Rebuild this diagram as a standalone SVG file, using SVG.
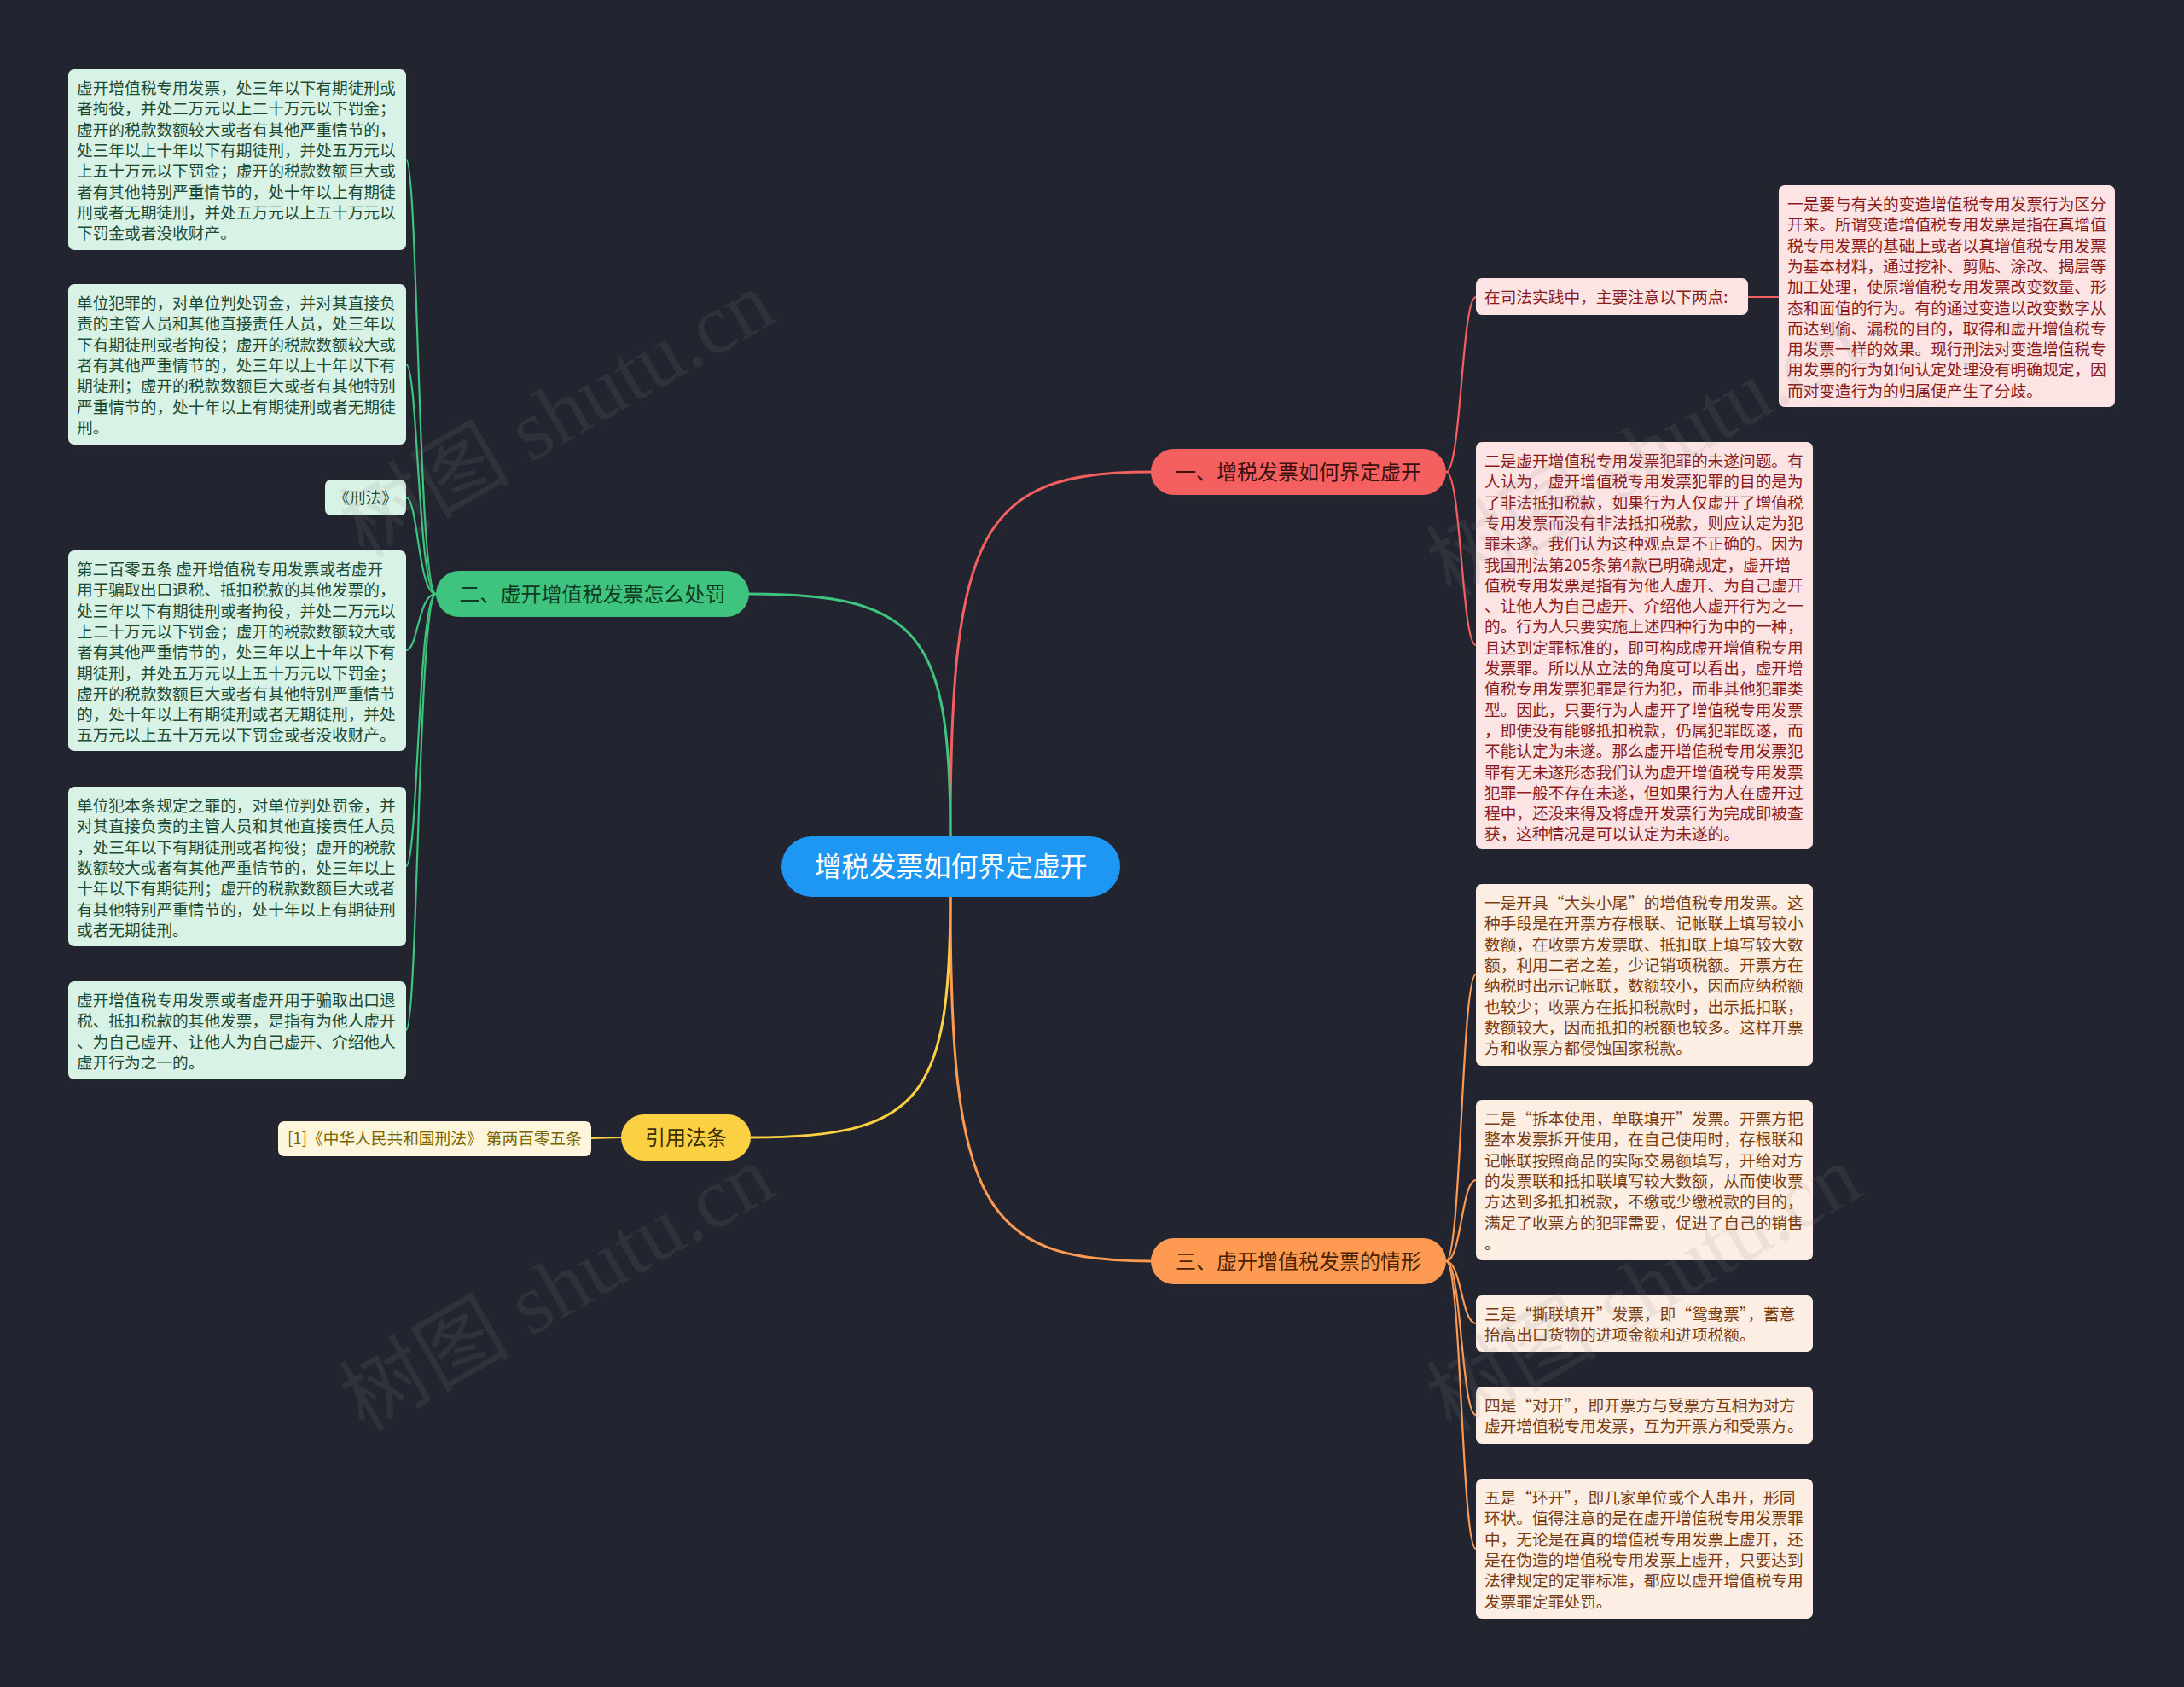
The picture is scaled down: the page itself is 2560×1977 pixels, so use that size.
<svg xmlns="http://www.w3.org/2000/svg" width="2560" height="1977" viewBox="0 0 2560 1977">
<style>
.t{font-family:"Noto Sans CJK SC","Noto Sans",sans-serif;font-size:18.7px}
.g{fill:#1d4a32}.r{fill:#8b1b1b}.o{fill:#7a3b10}.y{fill:#7a6400}
.bt{font-family:"Noto Sans CJK SC","Noto Sans",sans-serif;font-size:24px;text-anchor:middle}
.lg{fill:#d9f2e6}.lr{fill:#fde4e4}.lo{fill:#fdeee3}.ly{fill:#fdf6dc}
.c{fill:none;stroke-linecap:round}
.wm{font-family:"Liberation Serif","Noto Sans CJK SC",serif;font-size:100px;fill:#8a8a8a;opacity:0.13;text-anchor:middle}
</style>
<rect width="2560" height="1977" fill="#22242f"/>
<g id="connectors">
<path class="c" stroke="#f4605f" stroke-width="3" d="M1114 980 C1114 620,1150 553,1349 553"/>
<path class="c" stroke="#3ec47e" stroke-width="3" d="M1114 980 C1114 741,1078 696,878 696"/>
<path class="c" stroke="#fbd143" stroke-width="3" d="M1114 1051 C1114 1289,1078 1333,880 1333"/>
<path class="c" stroke="#fe9a52" stroke-width="3" d="M1114 1051 C1114 1411,1150 1478,1349 1478"/>
<g stroke="#3ec47e" stroke-width="2.2" class="c">
<path d="M511 696 C490 696,490 187,476 187"/>
<path d="M511 696 C490 696,490 427,476 427"/>
<path d="M511 696 C490 696,490 583,476 583"/>
<path d="M511 696 C490 696,490 762,476 762"/>
<path d="M511 696 C490 696,490 1015,476 1015"/>
<path d="M511 696 C490 696,490 1207,476 1207"/>
</g>
<g stroke="#f4605f" stroke-width="2.2" class="c">
<path d="M1695 553 C1713 553,1713 348,1730 348"/>
<path d="M1695 553 C1713 553,1713 756,1730 756"/>
<path d="M2049 348 L2085 348"/>
</g>
<g stroke="#fe9a52" stroke-width="2.2" class="c">
<path d="M1695 1478 C1713 1478,1713 1142,1730 1142"/>
<path d="M1695 1478 C1713 1478,1713 1383,1730 1383"/>
<path d="M1695 1478 C1713 1478,1713 1551,1730 1551"/>
<path d="M1695 1478 C1713 1478,1713 1658,1730 1658"/>
<path d="M1695 1478 C1713 1478,1713 1815,1730 1815"/>
</g>
<path class="c" stroke="#fbd143" stroke-width="2.2" d="M728 1333 L693 1334"/>
</g>
<g id="root">
<rect x="916" y="980" width="397" height="71" rx="35.5" fill="#1e97f3"/>
<text x="1114.5" y="1027" style="font-family:'Noto Sans CJK SC','Noto Sans',sans-serif;font-size:32px;text-anchor:middle" fill="#ffffff">增税发票如何界定虚开</text>
</g>
<g id="b1">
<rect x="1349" y="526" width="346" height="54" rx="27" fill="#f4605f"/>
<text class="bt" x="1522" y="561.5" fill="#3d0f0f">一、增税发票如何界定虚开</text>
</g>
<g id="b2">
<rect x="511" y="669" width="367" height="54" rx="27" fill="#3ec47e"/>
<text class="bt" x="694.5" y="704.5" fill="#0e3b22">二、虚开增值税发票怎么处罚</text>
</g>
<g id="b3">
<rect x="1349" y="1451" width="346" height="54" rx="27" fill="#fe9a52"/>
<text class="bt" x="1522" y="1486.5" fill="#4a2200">三、虚开增值税发票的情形</text>
</g>
<g id="b4">
<rect x="728" y="1306" width="152" height="54" rx="27" fill="#fbd143"/>
<text class="bt" x="804" y="1341.5" fill="#3b3000">引用法条</text>
</g>
<g id="l1">
<rect class="lg" x="80" y="81" width="396" height="212" rx="7"/>
<text class="t g"><tspan x="90" y="110">虚开增值税专用发票，处三年以下有期徒刑或</tspan><tspan x="90" y="134.3">者拘役，并处二万元以上二十万元以下罚金；</tspan><tspan x="90" y="158.6">虚开的税款数额较大或者有其他严重情节的，</tspan><tspan x="90" y="182.9">处三年以上十年以下有期徒刑，并处五万元以</tspan><tspan x="90" y="207.2">上五十万元以下罚金；虚开的税款数额巨大或</tspan><tspan x="90" y="231.5">者有其他特别严重情节的，处十年以上有期徒</tspan><tspan x="90" y="255.8">刑或者无期徒刑，并处五万元以上五十万元以</tspan><tspan x="90" y="280.1">下罚金或者没收财产。</tspan></text>
</g>
<g id="l2">
<rect class="lg" x="80" y="333" width="396" height="188" rx="7"/>
<text class="t g"><tspan x="90" y="362">单位犯罪的，对单位判处罚金，并对其直接负</tspan><tspan x="90" y="386.3">责的主管人员和其他直接责任人员，处三年以</tspan><tspan x="90" y="410.6">下有期徒刑或者拘役；虚开的税款数额较大或</tspan><tspan x="90" y="434.9">者有其他严重情节的，处三年以上十年以下有</tspan><tspan x="90" y="459.2">期徒刑；虚开的税款数额巨大或者有其他特别</tspan><tspan x="90" y="483.5">严重情节的，处十年以上有期徒刑或者无期徒</tspan><tspan x="90" y="507.8">刑。</tspan></text>
</g>
<g id="l3">
<rect class="lg" x="381" y="562" width="95" height="42" rx="7"/>
<text class="t g" x="428.5" y="590" text-anchor="middle">《刑法》</text>
</g>
<g id="l4">
<rect class="lg" x="80" y="645" width="396" height="235" rx="7"/>
<text class="t g"><tspan x="90" y="674">第二百零五条 虚开增值税专用发票或者虚开</tspan><tspan x="90" y="698.3">用于骗取出口退税、抵扣税款的其他发票的，</tspan><tspan x="90" y="722.6">处三年以下有期徒刑或者拘役，并处二万元以</tspan><tspan x="90" y="746.9">上二十万元以下罚金；虚开的税款数额较大或</tspan><tspan x="90" y="771.2">者有其他严重情节的，处三年以上十年以下有</tspan><tspan x="90" y="795.5">期徒刑，并处五万元以上五十万元以下罚金；</tspan><tspan x="90" y="819.8">虚开的税款数额巨大或者有其他特别严重情节</tspan><tspan x="90" y="844.1">的，处十年以上有期徒刑或者无期徒刑，并处</tspan><tspan x="90" y="868.4">五万元以上五十万元以下罚金或者没收财产。</tspan></text>
</g>
<g id="l5">
<rect class="lg" x="80" y="922" width="396" height="187" rx="7"/>
<text class="t g"><tspan x="90" y="951">单位犯本条规定之罪的，对单位判处罚金，并</tspan><tspan x="90" y="975.3">对其直接负责的主管人员和其他直接责任人员</tspan><tspan x="90" y="999.6">，处三年以下有期徒刑或者拘役；虚开的税款</tspan><tspan x="90" y="1023.9">数额较大或者有其他严重情节的，处三年以上</tspan><tspan x="90" y="1048.2">十年以下有期徒刑；虚开的税款数额巨大或者</tspan><tspan x="90" y="1072.5">有其他特别严重情节的，处十年以上有期徒刑</tspan><tspan x="90" y="1096.8">或者无期徒刑。</tspan></text>
</g>
<g id="l6">
<rect class="lg" x="80" y="1150" width="396" height="115" rx="7"/>
<text class="t g"><tspan x="90" y="1179">虚开增值税专用发票或者虚开用于骗取出口退</tspan><tspan x="90" y="1203.3">税、抵扣税款的其他发票，是指有为他人虚开</tspan><tspan x="90" y="1227.6">、为自己虚开、让他人为自己虚开、介绍他人</tspan><tspan x="90" y="1251.9">虚开行为之一的。</tspan></text>
</g>
<g id="ref">
<rect class="ly" x="326" y="1314" width="367" height="41" rx="7"/>
<text class="t y" x="509.5" y="1341" text-anchor="middle">[1]《中华人民共和国刑法》 第两百零五条</text>
</g>
<g id="r1">
<rect class="lr" x="1730" y="326" width="319" height="43" rx="7"/>
<text class="t r" x="1740" y="354.5">在司法实践中，主要注意以下两点:</text>
</g>
<g id="r1a">
<rect class="lr" x="2085" y="217" width="394" height="260" rx="7"/>
<text class="t r"><tspan x="2095" y="246">一是要与有关的变造增值税专用发票行为区分</tspan><tspan x="2095" y="270.3">开来。所谓变造增值税专用发票是指在真增值</tspan><tspan x="2095" y="294.6">税专用发票的基础上或者以真增值税专用发票</tspan><tspan x="2095" y="318.9">为基本材料，通过挖补、剪贴、涂改、揭层等</tspan><tspan x="2095" y="343.2">加工处理，使原增值税专用发票改变数量、形</tspan><tspan x="2095" y="367.5">态和面值的行为。有的通过变造以改变数字从</tspan><tspan x="2095" y="391.8">而达到偷、漏税的目的，取得和虚开增值税专</tspan><tspan x="2095" y="416.1">用发票一样的效果。现行刑法对变造增值税专</tspan><tspan x="2095" y="440.4">用发票的行为如何认定处理没有明确规定，因</tspan><tspan x="2095" y="464.7">而对变造行为的归属便产生了分歧。</tspan></text>
</g>
<g id="r2">
<rect class="lr" x="1730" y="518" width="395" height="477" rx="7"/>
<text class="t r"><tspan x="1740" y="547">二是虚开增值税专用发票犯罪的未遂问题。有</tspan><tspan x="1740" y="571.3">人认为，虚开增值税专用发票犯罪的目的是为</tspan><tspan x="1740" y="595.6">了非法抵扣税款，如果行为人仅虚开了增值税</tspan><tspan x="1740" y="619.9">专用发票而没有非法抵扣税款，则应认定为犯</tspan><tspan x="1740" y="644.2">罪未遂。我们认为这种观点是不正确的。因为</tspan><tspan x="1740" y="668.5">我国刑法第205条第4款已明确规定，虚开增</tspan><tspan x="1740" y="692.8">值税专用发票是指有为他人虚开、为自己虚开</tspan><tspan x="1740" y="717.1">、让他人为自己虚开、介绍他人虚开行为之一</tspan><tspan x="1740" y="741.4">的。行为人只要实施上述四种行为中的一种，</tspan><tspan x="1740" y="765.7">且达到定罪标准的，即可构成虚开增值税专用</tspan><tspan x="1740" y="790">发票罪。所以从立法的角度可以看出，虚开增</tspan><tspan x="1740" y="814.3">值税专用发票犯罪是行为犯，而非其他犯罪类</tspan><tspan x="1740" y="838.6">型。因此，只要行为人虚开了增值税专用发票</tspan><tspan x="1740" y="862.9">，即使没有能够抵扣税款，仍属犯罪既遂，而</tspan><tspan x="1740" y="887.2">不能认定为未遂。那么虚开增值税专用发票犯</tspan><tspan x="1740" y="911.5">罪有无未遂形态我们认为虚开增值税专用发票</tspan><tspan x="1740" y="935.8">犯罪一般不存在未遂，但如果行为人在虚开过</tspan><tspan x="1740" y="960.1">程中，还没来得及将虚开发票行为完成即被查</tspan><tspan x="1740" y="984.4">获，这种情况是可以认定为未遂的。</tspan></text>
</g>
<g id="o1">
<rect class="lo" x="1730" y="1036" width="395" height="213" rx="7"/>
<text class="t o"><tspan x="1740" y="1065">一是开具“大头小尾”的增值税专用发票。这</tspan><tspan x="1740" y="1089.3">种手段是在开票方存根联、记帐联上填写较小</tspan><tspan x="1740" y="1113.6">数额，在收票方发票联、抵扣联上填写较大数</tspan><tspan x="1740" y="1137.9">额，利用二者之差，少记销项税额。开票方在</tspan><tspan x="1740" y="1162.2">纳税时出示记帐联，数额较小，因而应纳税额</tspan><tspan x="1740" y="1186.5">也较少；收票方在抵扣税款时，出示抵扣联，</tspan><tspan x="1740" y="1210.8">数额较大，因而抵扣的税额也较多。这样开票</tspan><tspan x="1740" y="1235.1">方和收票方都侵蚀国家税款。</tspan></text>
</g>
<g id="o2">
<rect class="lo" x="1730" y="1289" width="395" height="188" rx="7"/>
<text class="t o"><tspan x="1740" y="1318">二是“拆本使用，单联填开”发票。开票方把</tspan><tspan x="1740" y="1342.3">整本发票拆开使用，在自己使用时，存根联和</tspan><tspan x="1740" y="1366.6">记帐联按照商品的实际交易额填写，开给对方</tspan><tspan x="1740" y="1390.9">的发票联和抵扣联填写较大数额，从而使收票</tspan><tspan x="1740" y="1415.2">方达到多抵扣税款，不缴或少缴税款的目的，</tspan><tspan x="1740" y="1439.5">满足了收票方的犯罪需要，促进了自己的销售</tspan><tspan x="1740" y="1463.8">。</tspan></text>
</g>
<g id="o3">
<rect class="lo" x="1730" y="1518" width="395" height="66" rx="7"/>
<text class="t o"><tspan x="1740" y="1547">三是“撕联填开”发票，即“鸳鸯票”，蓄意</tspan><tspan x="1740" y="1571.3">抬高出口货物的进项金额和进项税额。</tspan></text>
</g>
<g id="o4">
<rect class="lo" x="1730" y="1625" width="395" height="67" rx="7"/>
<text class="t o"><tspan x="1740" y="1654">四是“对开”，即开票方与受票方互相为对方</tspan><tspan x="1740" y="1678.3">虚开增值税专用发票，互为开票方和受票方。</tspan></text>
</g>
<g id="o5">
<rect class="lo" x="1730" y="1733" width="395" height="164" rx="7"/>
<text class="t o"><tspan x="1740" y="1762">五是“环开”，即几家单位或个人串开，形同</tspan><tspan x="1740" y="1786.3">环状。值得注意的是在虚开增值税专用发票罪</tspan><tspan x="1740" y="1810.6">中，无论是在真的增值税专用发票上虚开，还</tspan><tspan x="1740" y="1834.9">是在伪造的增值税专用发票上虚开，只要达到</tspan><tspan x="1740" y="1859.2">法律规定的定罪标准，都应以虚开增值税专用</tspan><tspan x="1740" y="1883.5">发票罪定罪处罚。</tspan></text>
</g>
<g id="watermarks">
<text class="wm" transform="translate(653 486) rotate(-30)" dominant-baseline="central">树图 shutu.cn</text>
<text class="wm" transform="translate(653 1510) rotate(-30)" dominant-baseline="central">树图 shutu.cn</text>
<text class="wm" transform="translate(1927 531) rotate(-30)" dominant-baseline="central">树图 shutu.cn</text>
<text class="wm" transform="translate(1927 1510) rotate(-30)" dominant-baseline="central">树图 shutu.cn</text>
</g>
</svg>
